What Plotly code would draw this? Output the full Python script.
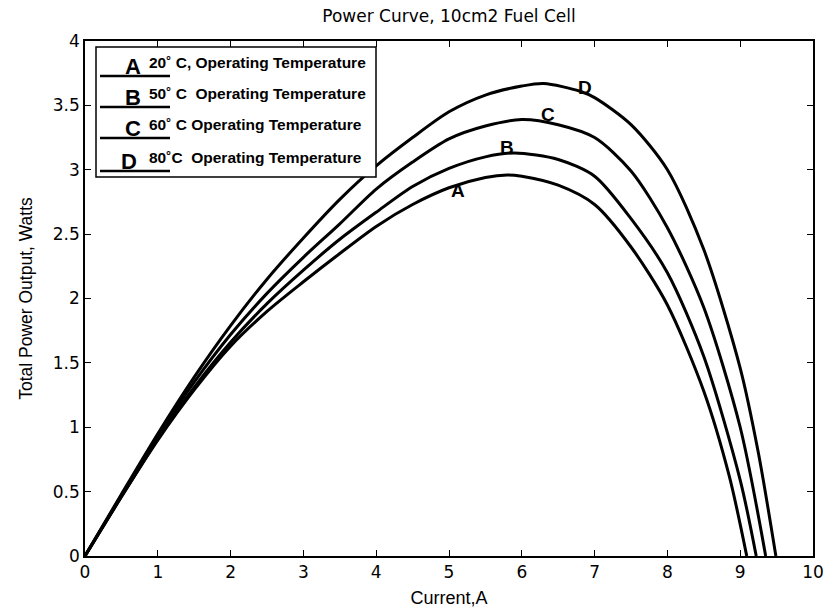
import plotly.graph_objects as go

# ---- data ----
a_x = [0, 0.5, 1, 1.5, 2, 2.5, 3, 3.5, 4, 4.5, 5, 5.5, 5.8, 6, 6.5, 7, 7.5, 8.0, 8.5, 8.85, 9.09]
a_y = [0, 0.46, 0.90, 1.29, 1.63, 1.90, 2.13, 2.35, 2.56, 2.73, 2.86, 2.94, 2.96, 2.95, 2.88, 2.73, 2.40, 1.95, 1.28, 0.62, 0]

b_x = [0, 0.5, 1, 1.5, 2, 2.5, 3, 3.5, 4, 4.5, 5, 5.5, 5.9, 6.5, 7, 7.5, 8.0, 8.5, 9.0, 9.22]
b_y = [0, 0.46, 0.91, 1.31, 1.66, 1.96, 2.22, 2.46, 2.67, 2.87, 3.01, 3.10, 3.13, 3.08, 2.95, 2.62, 2.20, 1.55, 0.59, 0]

c_x = [0, 0.5, 1, 1.5, 2, 2.5, 3, 3.5, 4, 4.5, 5, 5.5, 6, 6.5, 7, 7.5, 8.0, 8.5, 9.0, 9.35]
c_y = [0, 0.47, 0.93, 1.35, 1.72, 2.04, 2.32, 2.58, 2.85, 3.06, 3.24, 3.34, 3.39, 3.35, 3.25, 2.99, 2.55, 1.93, 1.00, 0]

d_x = [0, 0.5, 1, 1.5, 2, 2.5, 3, 3.5, 4, 4.5, 5, 5.5, 6, 6.3, 6.8, 7.0, 7.5, 8.0, 8.5, 9.0, 9.25, 9.49]
d_y = [0, 0.48, 0.95, 1.39, 1.79, 2.15, 2.47, 2.77, 3.03, 3.25, 3.45, 3.58, 3.65, 3.67, 3.61, 3.56, 3.35, 3.00, 2.38, 1.46, 0.80, 0]

curve_letters = ["A", "B", "C", "D"]
label_x = [5.12, 5.79, 6.36, 6.87]
label_y = [2.84, 3.17, 3.43, 3.64]

legend_texts = ["20˚ C, Operating Temperature",
                "50˚ C  Operating Temperature",
                "60˚ C Operating Temperature",
                "80˚C  Operating Temperature"]

x_ticks = list(range(0, 11))
y_ticks = [0, 0.5, 1, 1.5, 2, 2.5, 3, 3.5, 4]

title_text = "Power Curve, 10cm2 Fuel Cell"
x_title = "Current,A"
y_title = "Total Power Output, Watts"

# ---- figure ----
W, H = 827, 609
ML, MR, MT, MB = 85, 14, 41, 53
PW, PH = W - ML - MR, H - MT - MB
ARIAL = "Arial, Liberation Sans"

def px2paper_x(px):
    return (px - ML) / PW

def py2paper_y(py):
    return (H - MB - py) / PH

fig = go.Figure()
series = [(a_x, a_y), (b_x, b_y), (c_x, c_y), (d_x, d_y)]
for (xs, ys), name in zip(series, curve_letters):
    fig.add_trace(go.Scatter(x=xs, y=ys, mode="lines", name=name,
                             line=dict(color="black", width=3, shape="spline", smoothing=0.8),
                             showlegend=False, hoverinfo="skip"))

annotations = []
for lx, ly, t in zip(label_x, label_y, curve_letters):
    annotations.append(dict(x=lx, y=ly, xref="x", yref="y", text="<b>%s</b>" % t,
                            showarrow=False, font=dict(family=ARIAL, size=19, color="black")))

shapes = []
# legend box
shapes.append(dict(type="rect", xref="paper", yref="paper",
                   x0=px2paper_x(96), x1=px2paper_x(376), y0=py2paper_y(177), y1=py2paper_y(47),
                   line=dict(color="black", width=1.5), fillcolor="white", layer="above"))
line_py = [76, 107, 138, 171]
for i, (py, t) in enumerate(zip(line_py, legend_texts)):
    shapes.append(dict(type="line", xref="paper", yref="paper",
                       x0=px2paper_x(100), x1=px2paper_x(170), y0=py2paper_y(py), y1=py2paper_y(py),
                       line=dict(color="black", width=2.5), layer="above"))
    annotations.append(dict(x=px2paper_x(133 if i < 3 else 129), y=py2paper_y(py), xref="paper", yref="paper",
                            xanchor="center", yanchor="bottom", yshift=-5,
                            text="<b>%s</b>" % curve_letters[i], showarrow=False,
                            font=dict(family=ARIAL, size=22, color="black")))
    annotations.append(dict(x=px2paper_x(147), y=py2paper_y(py), xref="paper", yref="paper",
                            xanchor="left", yanchor="bottom", yshift=3,
                            text="<b>%s</b>" % t, showarrow=False,
                            font=dict(family=ARIAL, size=15.5, color="black")))

axis_common = dict(showgrid=False, zeroline=False, showline=True, linecolor="black", linewidth=1.5,
                   ticks="inside", ticklen=6, tickcolor="black", tickwidth=1, mirror="allticks",
                   automargin=False,
                   tickfont=dict(family="DejaVu Sans", size=17, color="black"))

fig.update_layout(
    width=W, height=H, autosize=False,
    margin=dict(l=ML, r=MR, t=MT, b=MB),
    paper_bgcolor="white", plot_bgcolor="white",
    title=dict(text=title_text, x=(ML + PW / 2) / W, xanchor="center", y=1 - 16 / H, yanchor="middle",
               font=dict(family="DejaVu Sans", size=17, color="black")),
    xaxis=dict(range=[0, 10], tickvals=x_ticks, title=dict(text=x_title, standoff=10,
               font=dict(family=ARIAL, size=18, color="black")), **axis_common),
    yaxis=dict(range=[0, 4], tickvals=y_ticks, title=dict(text=y_title, standoff=16,
               font=dict(family=ARIAL, size=17.5, color="black")), **axis_common),
    annotations=annotations,
    shapes=shapes,
)

fig.write_html("out.html")
